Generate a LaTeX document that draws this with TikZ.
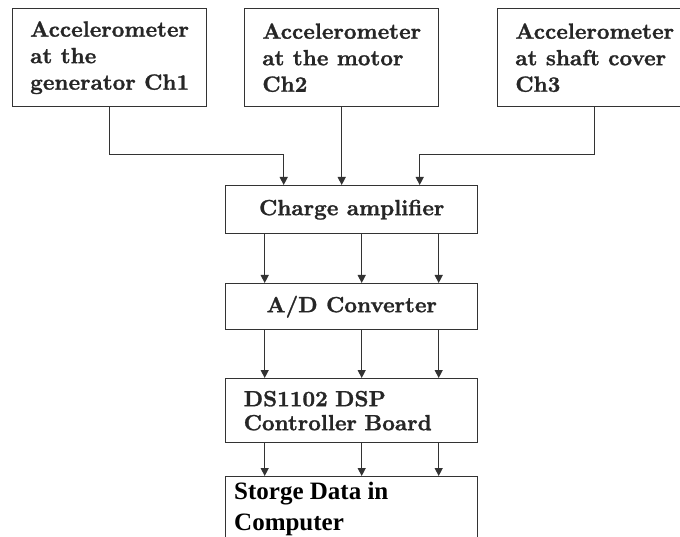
\documentclass[tikz,border=0pt]{standalone}
\usepackage{fontspec}
\newfontfamily\tnr{Liberation Serif}
\newfontfamily\heavy{lmroman10-bold}[Extension=.otf, FakeBold=1.2]
\usetikzlibrary{arrows.meta}
\begin{document}
\begin{tikzpicture}[x=1pt,y=-1pt,
  box/.style={draw=black!80, line width=1.4pt, rectangle, inner sep=0pt},
  arr/.style={draw=black!80, line width=1.3pt, -{Triangle[length=8pt,width=8pt]}},
  lbl/.style={font=\fontsize{22}{26.5}\selectfont\heavy, text=black!85},
  lbltwo/.style={font=\fontsize{25}{31}\selectfont\tnr\bfseries, text=black, inner sep=0pt, align=left}]
\useasboundingbox (0,0) rectangle (680,537);
\node[box, lbl, anchor=north west, minimum width=194pt, minimum height=98pt, align=left] (b1) at (12,8) {Accelerometer\\at the\\generator Ch1};
\node[box, lbl, anchor=north west, minimum width=194pt, minimum height=98pt, align=left] (b2) at (244,8) {Accelerometer\\at the motor\\Ch2};
\node[box, lbl, anchor=north west, minimum width=194pt, minimum height=98pt, align=left] (b3) at (497,8) {Accelerometer\\at shaft cover\\Ch3};
\node[box, lbl, anchor=north west, minimum width=252pt, minimum height=48pt] (ca) at (225,185) {Charge amplifier};
\node[box, lbl, anchor=north west, minimum width=252pt, minimum height=46pt] (ad) at (225,283) {A/D Converter};
\node[box, font=\fontsize{22}{24}\selectfont\heavy, text=black!85, anchor=north west, minimum width=252pt, minimum height=64pt, text width=216pt, align=left] (dsp) at (225,378) {DS1102 DSP\\Controller Board};
\node[box, anchor=north west, minimum width=252pt, minimum height=90pt] (st) at (225,476) {};
\node[lbltwo, anchor=north west] (stt) at ([xshift=9pt,yshift=-6pt]st.north west) {Storge Data in\\Computer};
\draw[arr] (b1.south) -- ++(0,47) -| ([xshift=-68pt]ca.north);
\draw[arr] (b2.south) -- (b2.south |- ca.north);
\draw[arr] (b3.south) -- ++(0,47) -| ([xshift=68pt]ca.north);
\foreach \dx in {-87,10,87}{
  \draw[arr] ([xshift=\dx pt]ca.south) -- ([xshift=\dx pt]ad.north);
  \draw[arr] ([xshift=\dx pt]ad.south) -- ([xshift=\dx pt]dsp.north);
  \draw[arr] ([xshift=\dx pt]dsp.south) -- ([xshift=\dx pt]st.north);
}
\end{tikzpicture}
\end{document}
